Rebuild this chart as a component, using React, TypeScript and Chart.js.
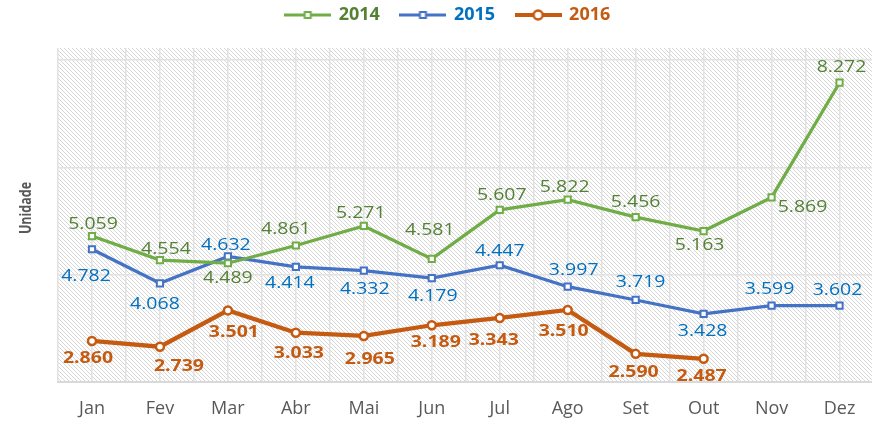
import React, { useEffect, useRef } from 'react';
import { Chart, registerables } from 'chart.js';

Chart.register(...registerables);

// ---- data ----
const months = ['Jan', 'Fev', 'Mar', 'Abr', 'Mai', 'Jun', 'Jul', 'Ago', 'Set', 'Out', 'Nov', 'Dez'];
const seriesNames = ['2014', '2015', '2016'];
const values2014 = [5059, 4554, 4489, 4861, 5271, 4581, 5607, 5822, 5456, 5163, 5869, 8272];
const values2015 = [4782, 4068, 4632, 4414, 4332, 4179, 4447, 3997, 3719, 3428, 3599, 3602];
const values2016 = [2860, 2739, 3501, 3033, 2965, 3189, 3343, 3510, 2590, 2487, null, null];
const yMin = 2000;
const yMax = 9000;
const yGridValues = [2000, 4250, 6500, 8750];
const yTitle = 'Unidade';

// ---- label placement (pixel offsets from each point) ----
const offsets2014 = [[1, -13], [6, -12], [0, 14], [-10, -17], [-3, -14], [-2, -30], [2, -16], [-3, -14], [0, -16], [-4, 13], [31, 9], [2, -17]];
const offsets2015 = [[-6, 26], [-5, 20], [-2, -12], [-6, 15], [1, 17], [1, 17], [0, -15], [6, -18], [5, -19], [-1, 16], [-2, -18], [-2, -17]];
const offsets2016 = [[-4, 16], [19, 18], [6, 21], [3, 19], [6, 22], [4, 16], [-6, 21], [-4, 20], [-2, 17], [-2, 16], [0, 0], [0, 0]];

const lineColors = ['#70AD47', '#4472C4', '#C55A11'];
const textColors = ['#548235', '#0070C0', '#C55A11'];
const FONT = '"Open Sans"';

const fmt = (v: number) => (v / 1000).toFixed(3);

function legendImage(color: string, circle: boolean, lw: number) {
  const c = document.createElement('canvas');
  c.width = 47;
  c.height = 14;
  const g = c.getContext('2d')!;
  g.strokeStyle = color;
  g.lineWidth = lw;
  g.beginPath();
  g.moveTo(0, 7);
  g.lineTo(47, 7);
  g.stroke();
  g.fillStyle = '#fff';
  if (circle) {
    g.lineWidth = 2.5;
    g.beginPath();
    g.arc(23.5, 7, 4.5, 0, Math.PI * 2);
    g.fill();
    g.stroke();
  } else {
    g.lineWidth = 2;
    g.fillRect(20.5, 4, 6, 6);
    g.strokeRect(20.5, 4, 6, 6);
  }
  return c;
}

function hatch(ctx: CanvasRenderingContext2D) {
  const c = document.createElement('canvas');
  c.width = 4;
  c.height = 4;
  const g = c.getContext('2d')!;
  g.fillStyle = '#ffffff';
  g.fillRect(0, 0, 4, 4);
  g.fillStyle = '#d6d6d6';
  for (let i = 0; i < 4; i++) g.fillRect(i, i, 1, 1);
  return ctx.createPattern(c, 'repeat');
}

export default function App() {
  const ref = useRef<HTMLCanvasElement>(null);

  useEffect(() => {
    const canvas = ref.current!;
    const offsets = [offsets2014, offsets2015, offsets2016];
    const weights = ['normal', 'normal', 'bold'];
    const imgs = [
      legendImage(lineColors[0], false, 3),
      legendImage(lineColors[1], false, 3),
      legendImage(lineColors[2], true, 4),
    ];

    const bgPlugin = {
      id: 'hatchBg',
      beforeDraw(chart: any) {
        const { ctx, chartArea: a } = chart;
        ctx.save();
        ctx.fillStyle = hatch(ctx);
        ctx.fillRect(a.left, a.top, a.right - a.left, a.bottom - a.top);
        ctx.restore();
      },
      afterDraw(chart: any) {
        const { ctx, chartArea: a } = chart;
        ctx.save();
        ctx.translate(26, (a.top + a.bottom) / 2 - 7);
        ctx.rotate(-Math.PI / 2);
        ctx.scale(1, 1.3);
        ctx.font = `bold 12.5px ${FONT}`;
        ctx.fillStyle = '#595959';
        ctx.textAlign = 'center';
        ctx.textBaseline = 'middle';
        ctx.fillText(yTitle, 0, 0);
        ctx.restore();
      },
    };

    const labelPlugin = {
      id: 'valueLabels',
      afterDatasetsDraw(chart: any) {
        const ctx = chart.ctx;
        chart.data.datasets.forEach((ds: any, di: number) => {
          const meta = chart.getDatasetMeta(di);
          meta.data.forEach((pt: any, i: number) => {
            const v = ds.data[i];
            if (v == null) return;
            const [dx, dy] = offsets[di][i];
            ctx.save();
            ctx.font = `${weights[di]} 16.5px ${FONT}`;
            ctx.fillStyle = textColors[di];
            ctx.textAlign = 'center';
            ctx.textBaseline = 'alphabetic';
            ctx.translate(pt.x + dx, pt.y + dy + 6);
            ctx.scale(1.18, 1);
            ctx.fillText(fmt(v), 0, 0);
            ctx.restore();
          });
        });
      },
    };

    const mk = (i: number, data: (number | null)[], circle: boolean) => ({
      label: seriesNames[i],
      data,
      borderColor: lineColors[i],
      backgroundColor: '#ffffff',
      borderWidth: circle ? 4.25 : 3.25,
      pointStyle: circle ? 'circle' : 'rect',
      pointRadius: circle ? 4 : 4.4,
      pointBorderWidth: circle ? 2.5 : 2,
      pointBackgroundColor: '#ffffff',
      pointBorderColor: lineColors[i],
      tension: 0,
      spanGaps: false,
    });

    const chart = new Chart(canvas, {
      type: 'line',
      data: {
        labels: months,
        datasets: [mk(0, values2014, false), mk(1, values2015, false), mk(2, values2016, true)],
      },
      options: {
        animation: false,
        responsive: true,
        maintainAspectRatio: false,
        events: [],
        layout: { padding: { top: -15, left: 17, right: 1, bottom: 0 } },
        plugins: {
          tooltip: { enabled: false },
          legend: {
            position: 'top',
            labels: {
              usePointStyle: true,
              pointStyleWidth: 44,
              padding: 21,
              font: { size: 18, weight: 'bold', family: FONT },
              generateLabels: (c: any) =>
                c.data.datasets.map((ds: any, i: number) => ({
                  text: ds.label,
                  fontColor: textColors[i],
                  pointStyle: imgs[i],
                  hidden: false,
                  datasetIndex: i,
                  lineWidth: 0,
                  strokeStyle: 'rgba(0,0,0,0)',
                  fillStyle: 'rgba(0,0,0,0)',
                })),
            },
          },
        },
        scales: {
          x: {
            type: 'category',
            position: 'bottom',
            offset: true,
            grid: { display: false },
            border: { display: true, color: '#d9d9d9', width: 2 },
            ticks: { color: '#595959', font: { size: 18, family: FONT }, padding: 8, maxRotation: 0 },
            afterFit: (s: any) => {
              s.height = 43;
            },
          },
          x2: {
            type: 'linear',
            position: 'top',
            min: -0.5,
            max: 11.5,
            grid: { color: '#e2e2e2', lineWidth: 1.5, drawTicks: false },
            border: { display: false },
            ticks: { display: false },
            afterBuildTicks: (s: any) => {
              const t = [];
              for (let i = 0; i <= 24; i++) t.push({ value: -0.5 + i * 0.5 });
              s.ticks = t;
            },
            afterFit: (s: any) => {
              s.height = 14;
            },
          },
          y: {
            type: 'linear',
            min: yMin,
            max: yMax,
            grid: { color: '#e2e2e2', lineWidth: 1.5, drawTicks: false },
            border: { display: false },
            ticks: { display: false },
            afterBuildTicks: (s: any) => {
              s.ticks = yGridValues.map((v) => ({ value: v }));
            },
            title: { display: false },
            afterFit: (s: any) => {
              s.width = 41;
            },
          },
        },
      },
      plugins: [bgPlugin, labelPlugin],
    } as any);

    return () => chart.destroy();
  }, []);

  return (
    <div style={{ position: 'fixed', left: 0, top: 0, width: 880, height: 425, overflow: 'hidden' }}>
      <canvas ref={ref} />
    </div>
  );
}
